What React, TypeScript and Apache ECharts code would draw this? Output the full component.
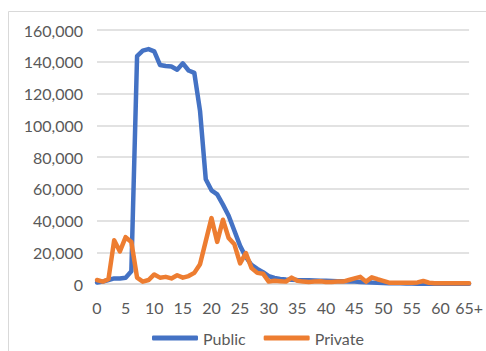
import React, { useEffect, useRef } from "react";
import * as echarts from "echarts";

const ages: string[] = Array.from({ length: 66 }, (_, i) => (i === 65 ? "65+" : String(i)));

const publicCounts: number[] = [
  1000, 1500, 2500, 3500, 3500, 4000, 8000, 143500, 147000, 148000,
  146500, 138000, 137300, 137000, 135000, 139000, 134500, 133000, 109000, 66000,
  59000, 56500, 50000, 43000, 33500, 24000, 17000, 12000, 9500, 7500,
  5000, 3800, 3200, 2900, 2700, 2500, 2400, 2300, 2200, 2100,
  2000, 1900, 1800, 1700, 1600, 1500, 1300, 1100, 900, 800,
  600, 500, 400, 400, 300, 300, 200, 200, 200, 200,
  200, 200, 200, 200, 200, 200,
];

const privateCounts: number[] = [
  2500, 1500, 3000, 27500, 20500, 29500, 26500, 4000, 1500, 2500,
  6000, 4000, 4500, 3500, 5500, 4000, 5000, 7000, 12500, 27000,
  41500, 26500, 40500, 29000, 25000, 13000, 19500, 10000, 7000, 6500,
  1500, 2000, 1800, 1500, 4000, 2000, 1500, 1300, 1500, 1700,
  1300, 1300, 1500, 1500, 2500, 3500, 4500, 1500, 4200, 3000,
  2000, 800, 800, 800, 800, 800, 1000, 1900, 800, 500,
  500, 500, 500, 500, 500, 500,
];

const seriesNames = ["Public", "Private"];
const seriesColors = ["#4472C4", "#ED7D31"];

const FONT = "Lato, 'Open Sans', sans-serif";
const TEXT = "#595959";
const GRID = "#D9D9D9";

export default function App() {
  const ref = useRef<HTMLDivElement>(null);

  useEffect(() => {
    if (!ref.current) return;
    const chart = echarts.init(ref.current, undefined, { renderer: "svg" });
    const values = [publicCounts, privateCounts];
    chart.setOption({
      animation: false,
      backgroundColor: "#ffffff",
      textStyle: { fontFamily: FONT },
      graphic: [
        {
          type: "rect",
          shape: { x: 8.5, y: 11.5, width: 600, height: 500 },
          style: { fill: "none", stroke: GRID, lineWidth: 1 },
          silent: true,
        },
      ],
      grid: { left: 97, right: 16, top: 30, bottom: 67 },
      legend: {
        left: 147,
        top: 325,
        icon: "roundRect",
        itemWidth: 46,
        itemHeight: 5,
        itemGap: 18,
        textStyle: { color: TEXT, fontSize: 16, fontFamily: FONT },
        data: seriesNames,
      },
      xAxis: {
        type: "category",
        data: ages,
        boundaryGap: false,
        axisLine: { lineStyle: { color: GRID, width: 1.5 } },
        axisTick: { show: false },
        axisLabel: {
          interval: 4,
          color: TEXT,
          fontSize: 16,
          fontFamily: FONT,
          margin: 15,
        },
        splitLine: { show: false },
      },
      yAxis: {
        type: "value",
        min: 0,
        max: 160000,
        interval: 20000,
        axisLine: { show: false },
        axisTick: { show: false },
        axisLabel: {
          color: TEXT,
          fontSize: 16,
          fontFamily: FONT,
          margin: 14,
          formatter: (v: number) => v.toLocaleString("en-US"),
        },
        splitLine: { lineStyle: { color: GRID, width: 1.5 } },
      },
      series: seriesNames.map((name, i) => ({
        name,
        type: "line",
        data: values[i],
        symbol: "none",
        smooth: false,
        color: seriesColors[i],
        lineStyle: { color: seriesColors[i], width: 4.5, cap: "round", join: "round" },
        itemStyle: { color: seriesColors[i] },
      })),
    });
    return () => chart.dispose();
  }, []);

  return (
    <div
      ref={ref}
      style={{ position: "fixed", left: 0, top: 0, width: 486, height: 351 }}
    />
  );
}
